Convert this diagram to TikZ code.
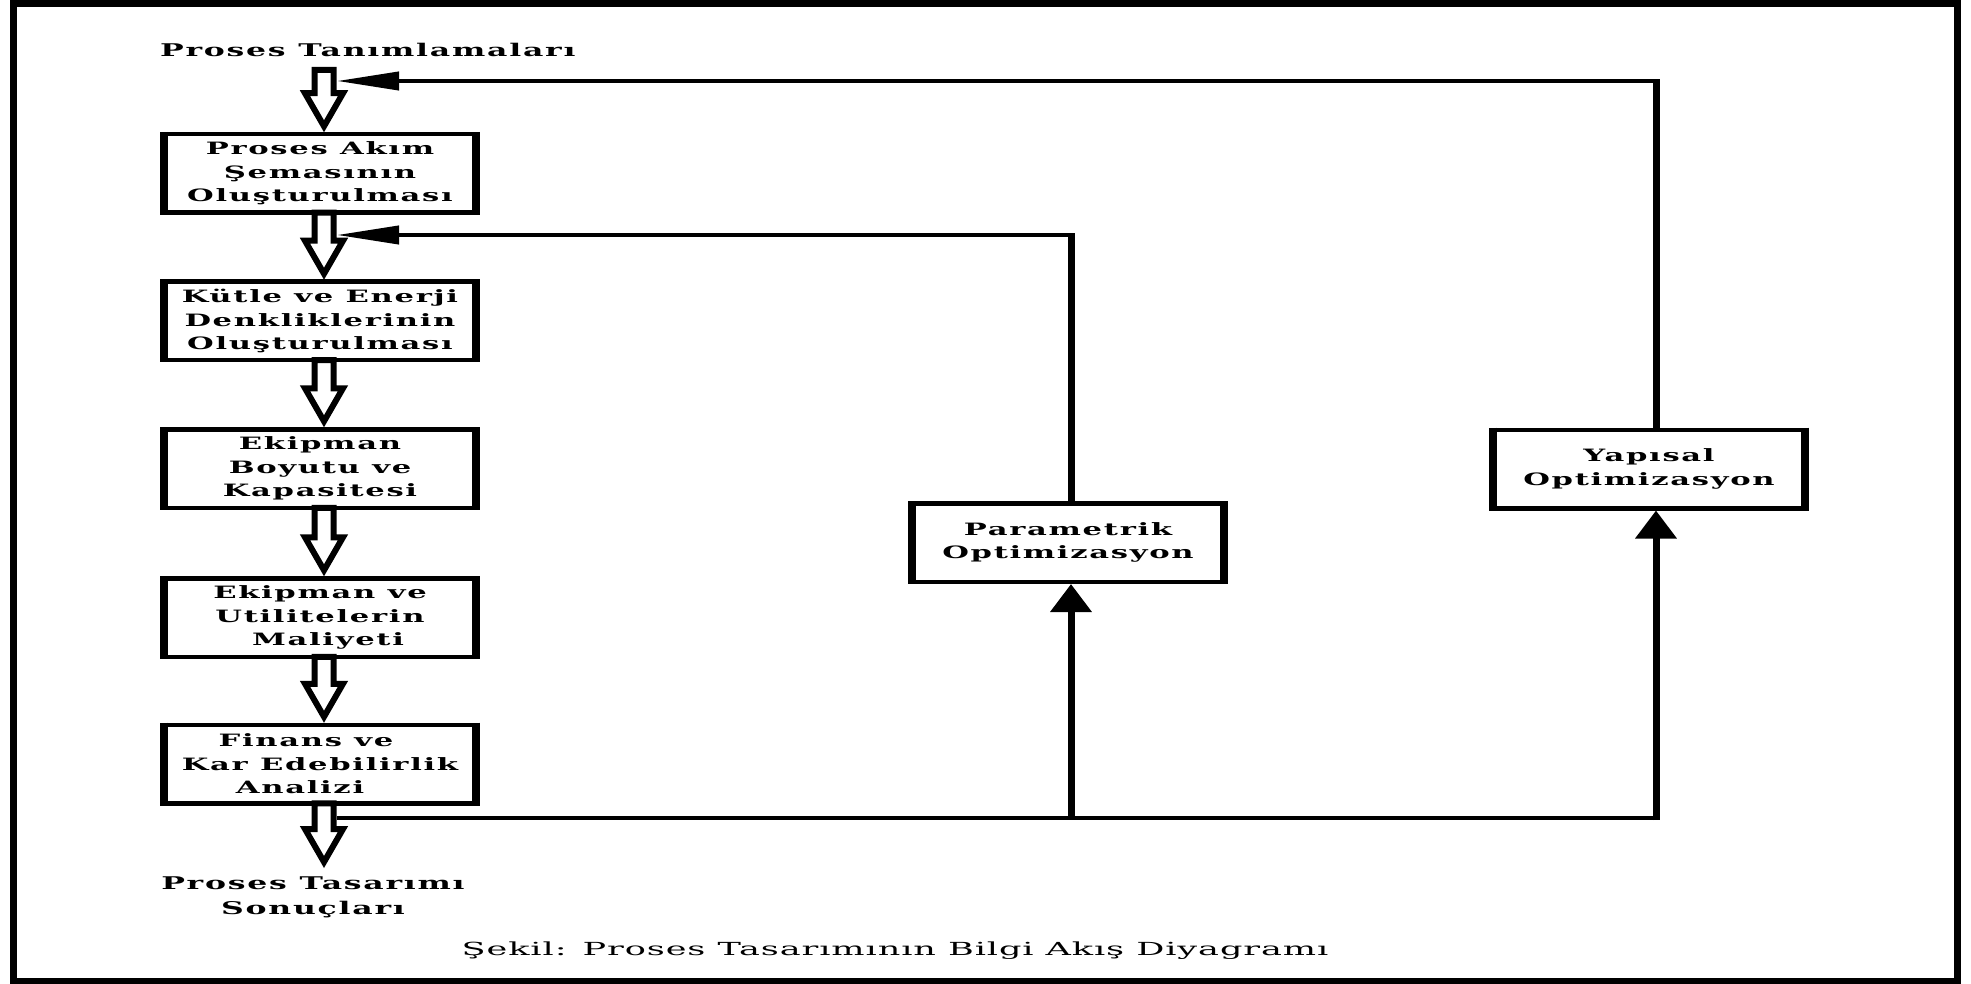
\documentclass[tikz,border=0pt]{standalone}
\usepackage{fontspec}
\usetikzlibrary{arrows.meta,calc}
\newfontfamily\dfont[FakeStretch=1.8,LetterSpace=10]{DejaVu Serif}
\newfontfamily\cfont[FakeStretch=1.95,LetterSpace=5]{DejaVu Serif}
\newcommand\lblfont{\dfont\bfseries\fontsize{17}{23.5}\selectfont}
\newcommand\toplblfont{\dfont\bfseries\fontsize{17.5}{25}\selectfont}
\newcommand\capfont{\cfont\fontsize{18}{22}\selectfont}
\newcommand\blockarr[2]{%
  \path (#1) coordinate (bas) (#2) coordinate (bat);
  \draw[blk] let \p1=(bas), \p2=(bat) in
    (\x2-9.5pt,\y1) -- (\x2-9.5pt,\y2+39pt) -- (\x2-19pt,\y2+39pt) -- (\x2,\y2+6pt)
    -- (\x2+19pt,\y2+39pt) -- (\x2+9.5pt,\y2+39pt) -- (\x2+9.5pt,\y1) -- cycle;}
\begin{document}
\begin{tikzpicture}[x=1pt,y=-1pt,
  boxst/.style={draw, line width=4.5pt, minimum width=312pt, minimum height=78.5pt,
    inner sep=0pt, outer sep=0pt, align=center, font=\lblfont},
  sidel/.style={line width=8pt, shorten <=-2.25pt, shorten >=-2.25pt},
  lbl/.style={font=\toplblfont, inner sep=0pt, align=center},
  blk/.style={draw, fill=white, line width=6pt, line join=miter},
  hline/.style={line width=4pt},
  vline/.style={line width=7pt},
  uptip/.style={-{Triangle[length=28pt,width=40pt]}},
  lefttip/.style={-{Triangle[length=62pt,width=18pt]}}]
\useasboundingbox (0,0) rectangle (1971,984);
\fill[white] (0,0) rectangle (1971,984);
\draw[line width=7pt] (13,3.5) rectangle (1957,981);

% labels
\node[lbl, anchor=base west] (t1) at (160,57) {Proses Tanımlamaları};
\node[lbl] (t2) at (313,897) {Proses Tasarımı\\Sonuçları};
\node[font=\capfont, inner sep=0pt, anchor=base] (cap) at (895,955) {Şekil: Proses Tasarımının Bilgi Akış Diyagramı};

% main boxes
\node[boxst] (b1) at (320,173.5) {Proses Akım\\Şemasının\\Oluşturulması};
\node[boxst] (b2) at (320,321) {Kütle ve Enerji\\Denkliklerinin\\Oluşturulması};
\node[boxst] (b3) at (320,468.5) {Ekipman\\Boyutu ve\\Kapasitesi};
\node[boxst] (b4) at (320,617.5) {Ekipman ve\\Utilitelerin\\\hspace*{16pt}Maliyeti};
\node[boxst] (b5) at (320,764) {Finans ve\hspace*{28pt}\\Kar Edebilirlik\\Analizi\hspace*{40pt}};
\node[boxst] (pbox) at (1068,542.5) {Parametrik\\Optimizasyon};
\node[boxst] (ybox) at (1649,469) {Yapısal\\Optimizasyon};
\foreach \n in {b1,b2,b3,b4,b5,pbox,ybox}{
  \draw[sidel] (\n.north west) -- (\n.south west);
  \draw[sidel] (\n.north east) -- (\n.south east);}

% feedback connectors
\coordinate (px) at (1071,0);
\coordinate (yx) at (1656,0);
\coordinate (fb1) at (337,81);
\coordinate (fb2) at (337,235);
\coordinate (fb3) at (337,818);
\coordinate (c1) at (yx |- fb1);
\coordinate (c2) at (px |- fb2);
\coordinate (j3p) at (px |- fb3);
\coordinate (j3y) at (yx |- fb3);

\draw[hline] (fb3) -- (j3y);
\draw[vline, uptip] (j3p) -- ([yshift=-2.25pt]pbox.south -| px);
\draw[vline, uptip] ([yshift=-2pt]j3y) -- ([yshift=-2.25pt]ybox.south -| yx);
\draw[vline] (ybox.north -| yx) -- ([yshift=2pt]c1);
\draw[hline, lefttip] (c1) -- (fb1);
\draw[vline] (pbox.north -| px) -- ([yshift=2pt]c2);
\draw[hline, lefttip] (c2) -- (fb2);

% hollow block arrows
\blockarr{324,70}{$(b1.north)+(4,-2)$}
\blockarr{$(b1.south)+(4,0)$}{$(b2.north)+(4,-2)$}
\blockarr{$(b2.south)+(4,0)$}{$(b3.north)+(4,-2)$}
\blockarr{$(b3.south)+(4,0)$}{$(b4.north)+(4,-2)$}
\blockarr{$(b4.south)+(4,0)$}{$(b5.north)+(4,-2)$}
\blockarr{$(b5.south)+(4,0)$}{324,868}
\end{tikzpicture}
\end{document}
